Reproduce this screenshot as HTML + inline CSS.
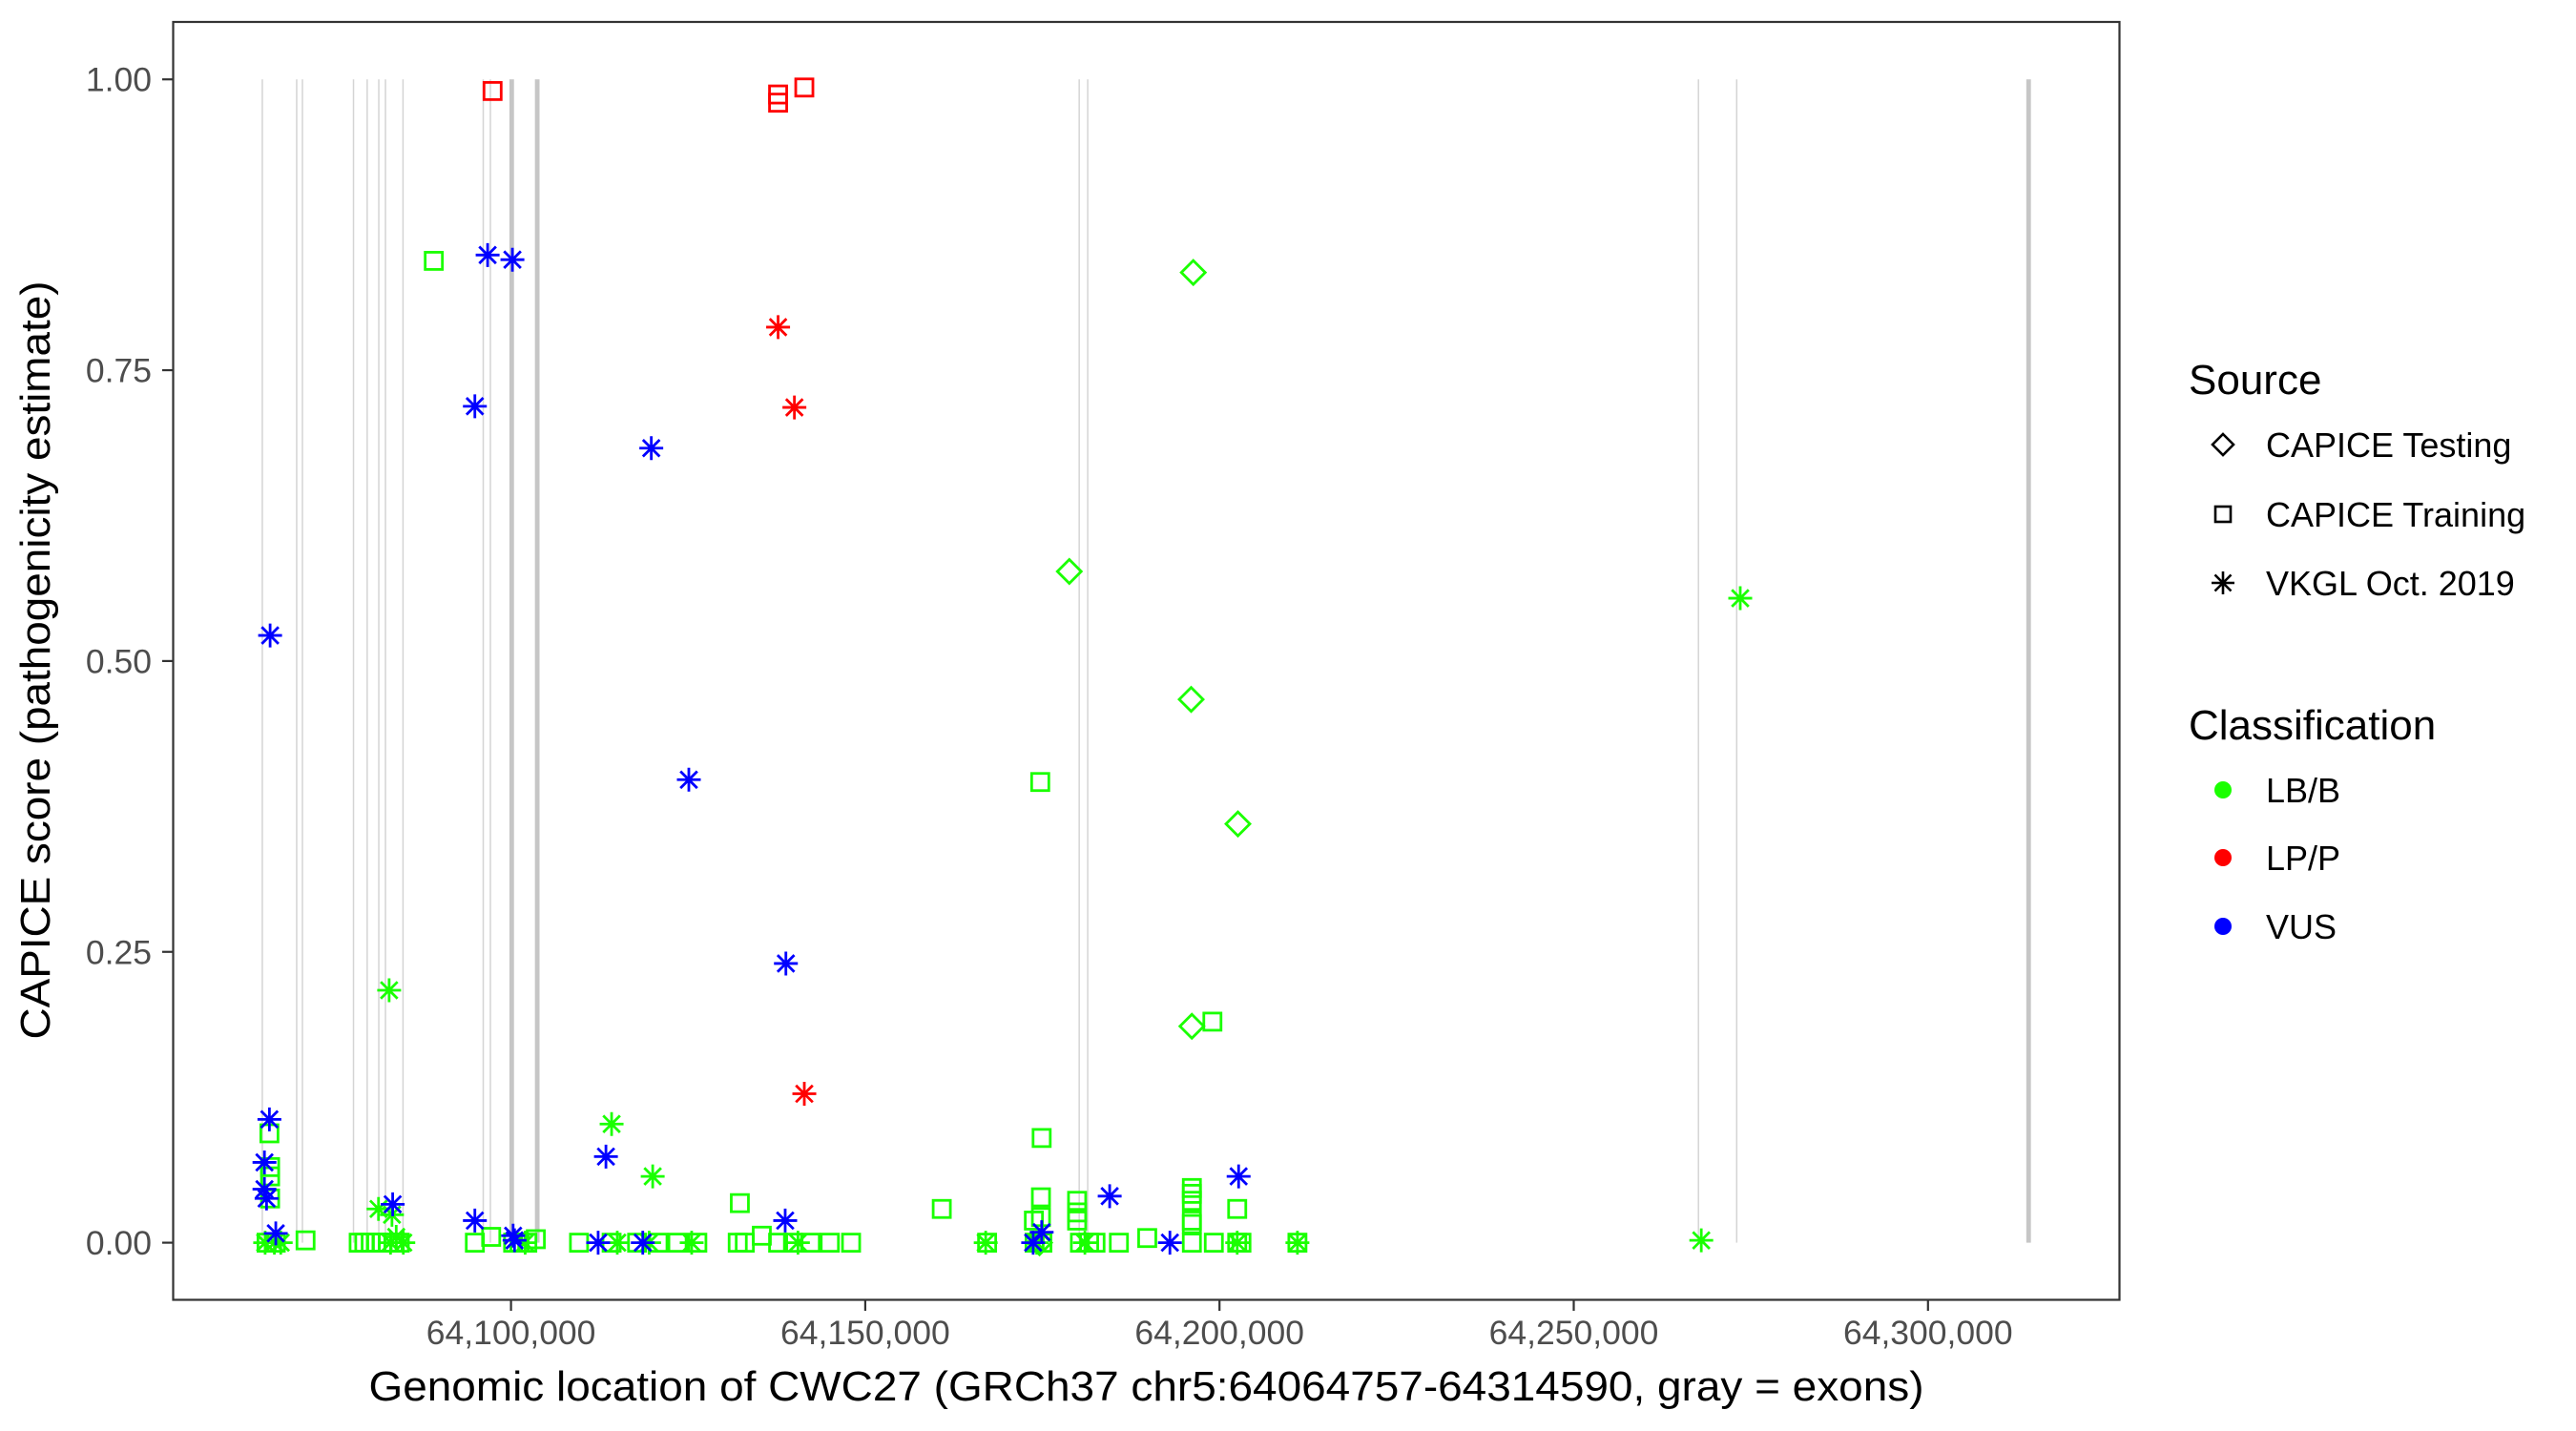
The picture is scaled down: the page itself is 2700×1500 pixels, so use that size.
<!DOCTYPE html>
<html><head><meta charset="utf-8"><style>
html,body{margin:0;padding:0;background:#fff}
svg{display:block;font-family:"Liberation Sans",Arial,sans-serif}
</style></head><body>
<svg id="chart" width="2700" height="1500" viewBox="0 0 2700 1500" xmlns="http://www.w3.org/2000/svg">
<rect x="0" y="0" width="2700" height="1500" fill="#fff"/>
<g id="exons"></g>
<g id="points"></g>
<rect x="181.5" y="23" width="2040" height="1339.5" fill="none" stroke="#333" stroke-width="2.2"/>
<g id="xaxis"></g>
<g id="yaxis"></g>
<text x="1201.5" y="1468" text-anchor="middle" font-size="44" fill="#000" textLength="1630" lengthAdjust="spacingAndGlyphs">Genomic location of CWC27 (GRCh37 chr5:64064757-64314590, gray = exons)</text>
<text transform="translate(52,692) rotate(-90)" text-anchor="middle" font-size="44" fill="#000" textLength="795" lengthAdjust="spacingAndGlyphs">CAPICE score (pathogenicity estimate)</text>
<g id="legend" transform="translate(-4,-2)">
<text x="2298" y="415" font-size="44" fill="#000">Source</text>
<g>
<path d="M2334,457 L2345,468 L2334,479 L2323,468 Z" fill="none" stroke="#000" stroke-width="2.6"/>
<text x="2379" y="481" font-size="36" fill="#000">CAPICE Testing</text></g>
<g>
<rect x="2326" y="533" width="16" height="16" fill="none" stroke="#000" stroke-width="2.6"/>
<text x="2379" y="554" font-size="36" fill="#000">CAPICE Training</text></g>
<g>
<path d="M2334,601 V625 M2322,613 H2346 M2325.5,604.5 L2342.5,621.5 M2342.5,604.5 L2325.5,621.5" stroke="#000" stroke-width="2.6"/>
<text x="2379" y="626" font-size="36" fill="#000">VKGL Oct. 2019</text></g>
<text x="2298" y="777" font-size="44" fill="#000">Classification</text>
<g><circle cx="2334" cy="830" r="9" fill="#1aff00"/><text x="2379" y="843" font-size="36" fill="#000">LB/B</text></g>
<g><circle cx="2334" cy="901" r="9" fill="#ff0000"/><text x="2379" y="914" font-size="36" fill="#000">LP/P</text></g>
<g><circle cx="2334" cy="973" r="9" fill="#0000ff"/><text x="2379" y="986" font-size="36" fill="#000">VUS</text></g>
</g>
</svg>
<script>
// ---- data ----
const exonStart = [64064.9,64069.75,64070.56,64077.77,64079.7,64081.34,64082.28,64084.76,64096.08,64097.09,64100.1,64103.7,64180.2,64181.4,64267.6,64273.0,64314.2];
const exonWidthKb = [0.1,0.1,0.1,0.1,0.1,0.1,0.1,0.1,0.1,0.1,0.65,0.65,0.1,0.1,0.1,0.1,0.65];
const xTickValues = [64100,64150,64200,64250,64300];
const xTickLabels = ["64,100,000","64,150,000","64,200,000","64,250,000","64,300,000"];
const yTickValues = [0,0.25,0.5,0.75,1];
const yTickLabels = ["0.00","0.25","0.50","0.75","1.00"];
// points: position (kb), score, source, classification
const trainPos = [64097.4,64137.7,64137.7,64141.4,
 64089.1,64174.7,64199.0,64174.9,64065.9,64066.0,64066.0,64066.0,64132.3,64160.8,64174.8,64174.8,64173.8,64179.9,64179.9,64179.9,64196.1,64196.1,64196.1,64196.1,64196.1,64202.5,
 64065.5,64066.8,64071.0,64078.5,64079.3,64080.2,64081.0,64081.8,64082.6,64083.4,64084.3,64094.9,64097.2,64100.3,64101.2,64102.3,64103.5,64109.6,64114.2,64117.8,64120.8,64123.5,64126.3,64132.0,64133.0,64135.4,64137.7,64139.8,64142.3,64145.0,64148.0,64167.2,64173.9,64175.0,64180.3,64181.6,64182.5,64185.8,64189.8,64196.1,64199.2,64202.5,64203.1,64211.0];
const trainScore = [0.990,0.987,0.980,0.993,
 0.844,0.396,0.190,0.090,0.094,0.065,0.057,0.038,0.034,0.029,0.039,0.022,0.019,0.036,0.026,0.019,0.047,0.042,0.036,0.019,0.016,0.029,
 0,0,0.002,0,0,0,0,0,0,0,0,0,0.005,0,0,0,0.003,0,0,0,0,0,0,0,0,0.006,0,0,0,0,0,0,0,0,0,0,0,0,0.004,0,0,0,0,0];
const trainClass = ["LP","LP","LP","LP"].concat(Array(22).fill("LB")).concat(Array(44).fill("LB"));
const vkglPos = [64137.7,64140.0,64141.4,
 64082.8,64114.2,64120.0,64081.3,64083.2,64083.8,64273.5,
 64065.3,64066.6,64067.5,64083.0,64084.8,64102.0,64115.0,64119.5,64125.5,64140.5,64167.0,64174.2,64181.0,64202.5,64211.0,64268.0,
 64066.0,64065.9,64065.2,64065.2,64065.5,64066.8,64083.3,64094.9,64100.5,64100.3,64096.7,64100.2,64094.9,64119.8,64125.1,64138.8,64113.4,64112.3,64118.6,64138.7,64173.7,64174.9,64184.5,64193.0,64202.7];
const vkglScore = [0.787,0.718,0.128,
 0.217,0.102,0.057,0.029,0.024,0.005,0.554,
 0,0,0,0,0,0,0,0,0,0,0,0,0,0,0,0.002,
 0.522,0.106,0.069,0.046,0.038,0.008,0.033,0.019,0.002,0.006,0.849,0.845,0.719,0.683,0.398,0.240,0.074,0,0,0.019,0,0.009,0.040,0,0.057];
const vkglClass = ["LP","LP","LP"].concat(Array(7).fill("LB")).concat(Array(16).fill("LB")).concat(Array(25).fill("VUS"));
const testPos = [64196.3,64178.8,64196.0,64202.6,64196.1,64174.6];
const testScore = [0.834,0.577,0.467,0.360,0.186,0.0];
const testClass = ["LB","LB","LB","LB","LB","LB"];

const NS="http://www.w3.org/2000/svg";
const colors={LB:"#1aff00",LP:"#ff0000",VUS:"#0000ff"};
function xS(kb){return 535.6+(kb-64100)*7.426;}
function yS(v){return 1302.6-v*1219.4;}
function mk(tag,attrs,parent){const e=document.createElementNS(NS,tag);for(const k in attrs)e.setAttribute(k,attrs[k]);parent.appendChild(e);return e;}

const gEx=document.getElementById("exons");
exonStart.forEach((s,i)=>{
  const w=Math.max(1.5,exonWidthKb[i]*7.426);
  const r=mk("rect",{x:xS(s)-w/2,y:yS(1),width:w,height:yS(0)-yS(1),fill:w>2?"#c6c6c6":"#d4d4d4"},gEx);
  
  
});

const gP=document.getElementById("points");
function square(x,y,c){return mk("rect",{x:x-9,y:y-9,width:18,height:18,fill:"none",stroke:c,"stroke-width":2.8},gP);}
function diamond(x,y,c){return mk("path",{d:`M${x},${y-12.5} L${x+12.5},${y} L${x},${y+12.5} L${x-12.5},${y} Z`,fill:"none",stroke:c,"stroke-width":2.8},gP);}
function star(x,y,c){const r=12.5,d=8.8;return mk("path",{d:`M${x},${y-r}V${y+r}M${x-r},${y}H${x+r}M${x-d},${y-d}L${x+d},${y+d}M${x+d},${y-d}L${x-d},${y+d}`,stroke:c,"stroke-width":2.8,fill:"none"},gP);}

trainPos.forEach((p,i)=>{
  const e=square(xS(p),yS(trainScore[i]),colors[trainClass[i]]);
  
  
});
testPos.forEach((p,i)=>{
  const e=diamond(xS(p),yS(testScore[i]),colors[testClass[i]]);
  
  
});
vkglPos.forEach((p,i)=>{
  const e=star(xS(p),yS(vkglScore[i]),colors[vkglClass[i]]);
  
  
});

const gX=document.getElementById("xaxis");
xTickValues.forEach((v,i)=>{
  const x=xS(v);
  const t=mk("line",{x1:x,x2:x,y1:1362.5,y2:1374,stroke:"#333","stroke-width":2.2},gX);
  
  
  const l=mk("text",{x:x,y:1409,"text-anchor":"middle","font-size":35.5,fill:"#4d4d4d"},gX);
  l.textContent=xTickLabels[i];
  
  
});
const gY=document.getElementById("yaxis");
yTickValues.forEach((v,i)=>{
  const y=yS(v);
  const t=mk("line",{x1:170,x2:181.5,y1:y,y2:y,stroke:"#333","stroke-width":2.2},gY);
  
  
  const l=mk("text",{x:159,y:y+12.5,"text-anchor":"end","font-size":35.5,fill:"#4d4d4d"},gY);
  l.textContent=yTickLabels[i];
  
  
});
</script>
</body></html>
